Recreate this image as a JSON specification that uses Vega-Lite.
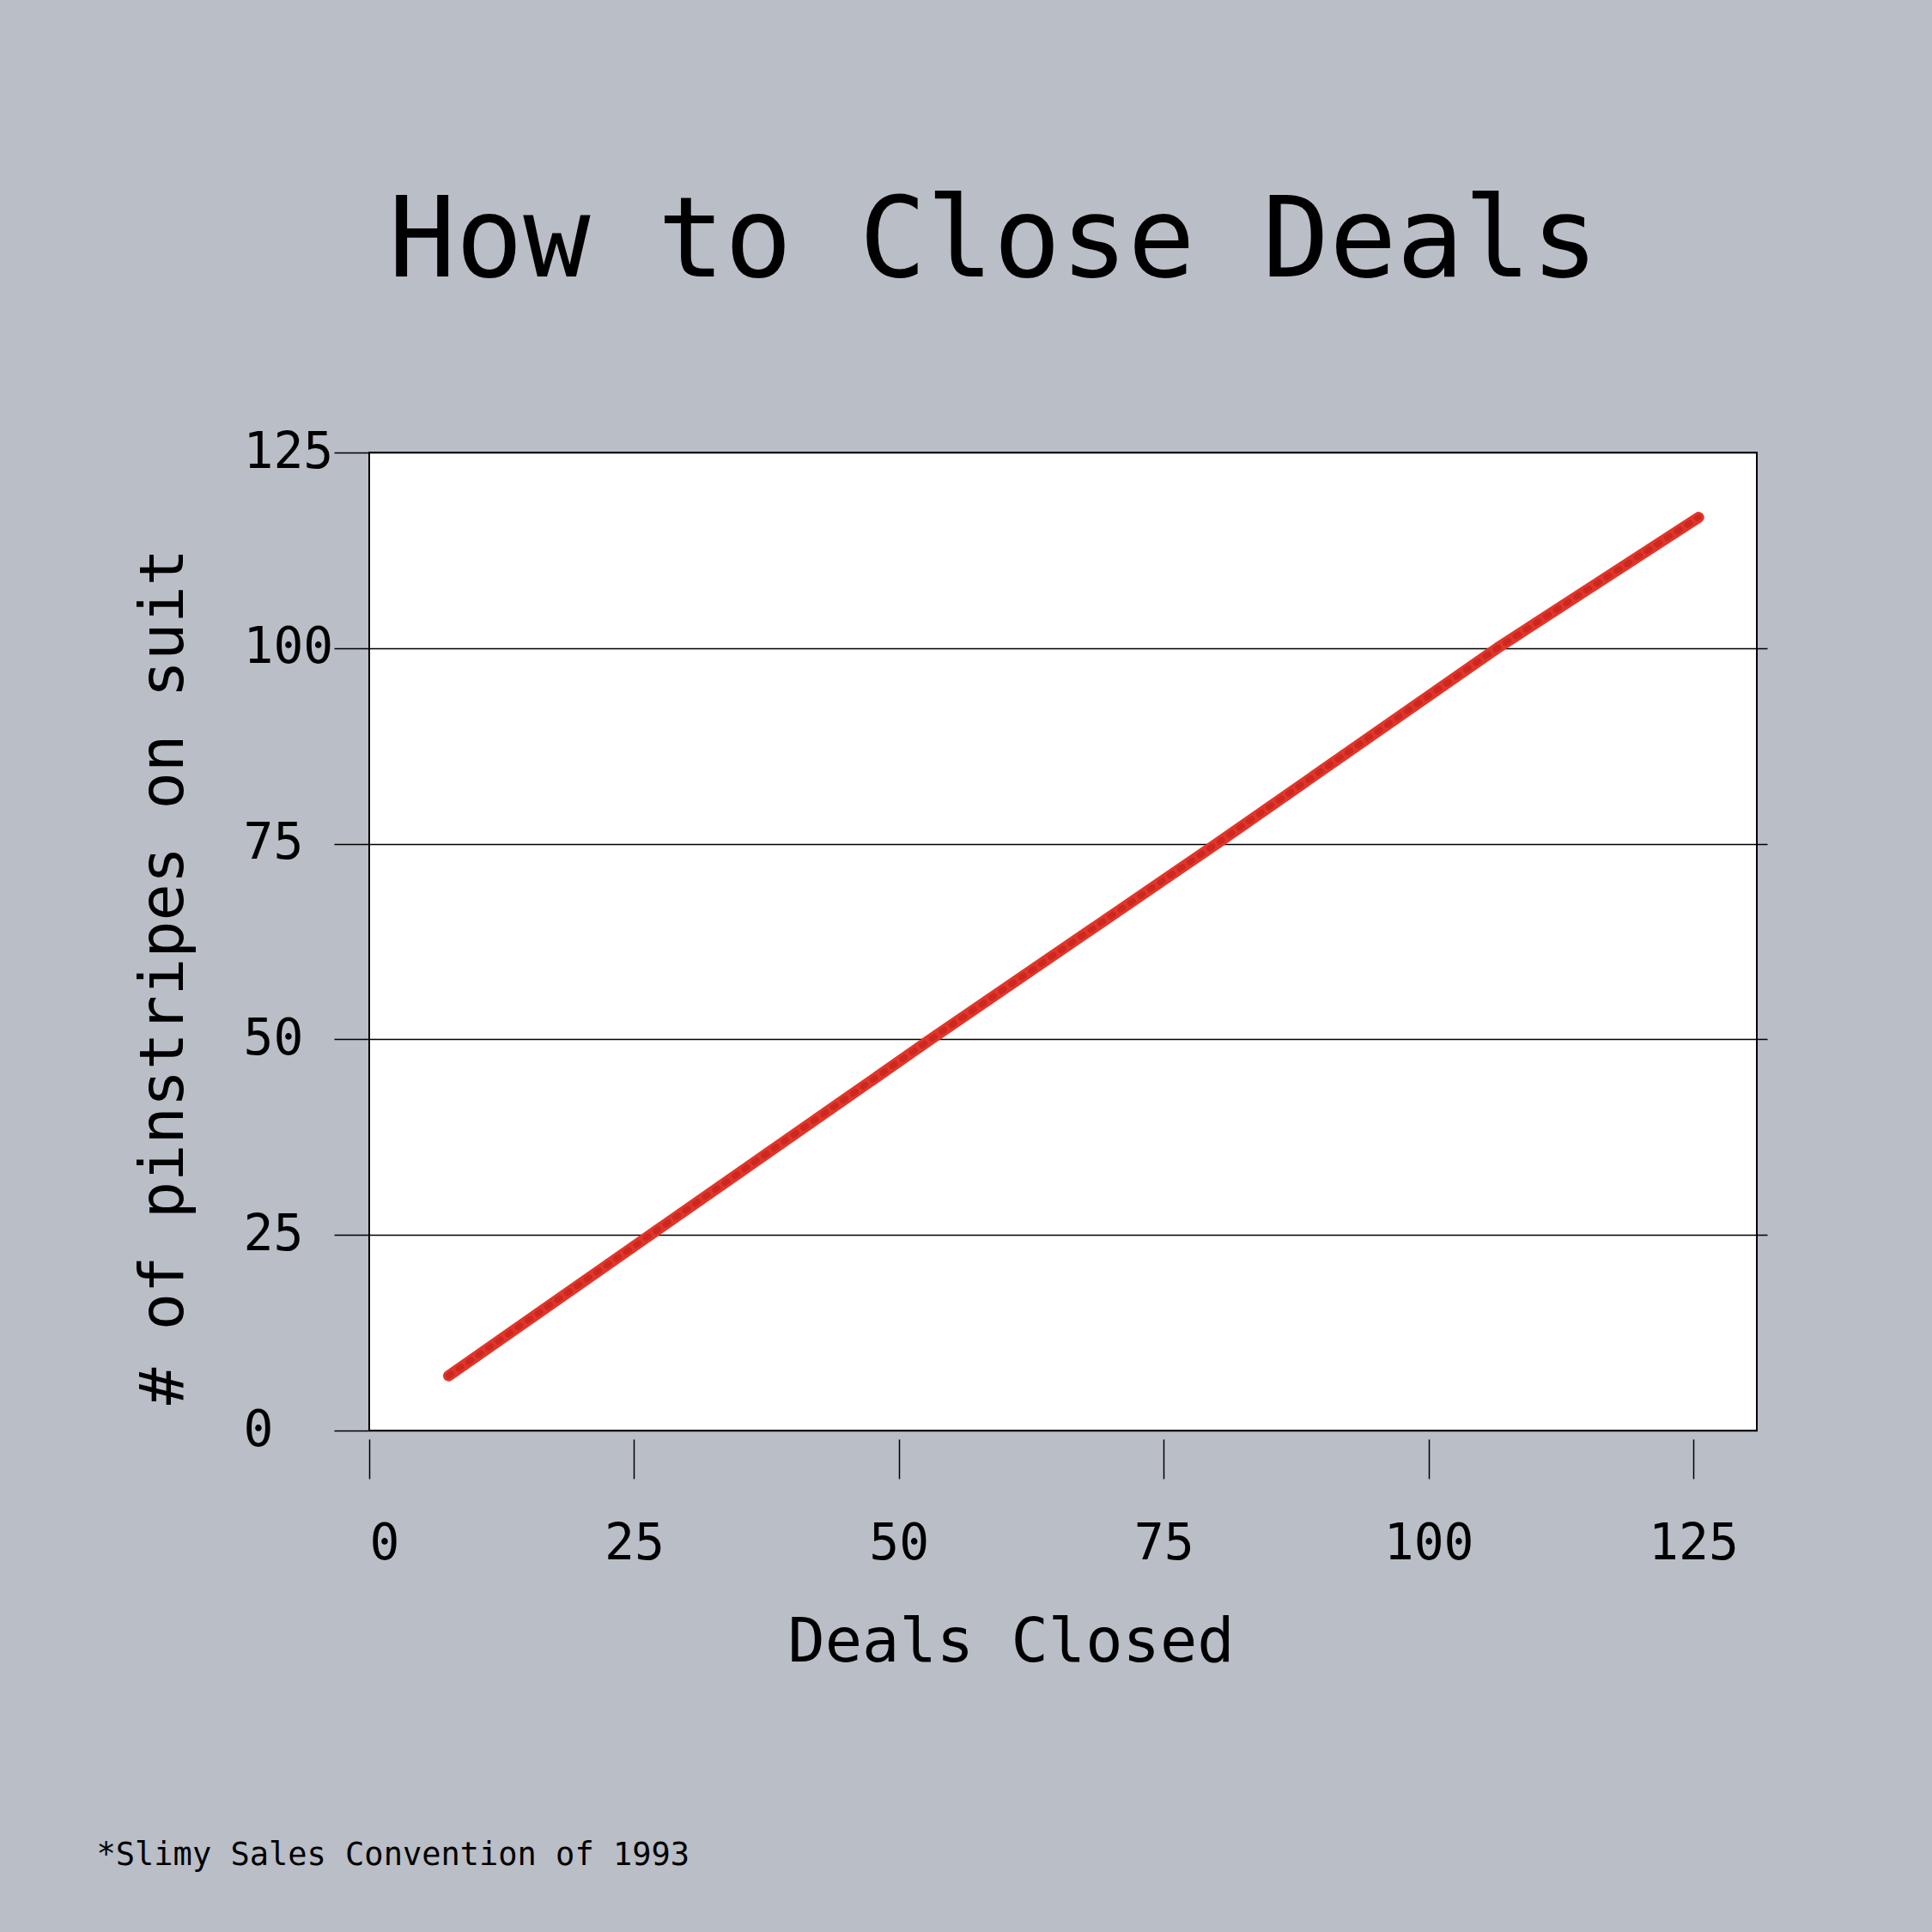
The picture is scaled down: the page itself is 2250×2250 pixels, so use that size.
{
  "$schema": "https://vega.github.io/schema/vega-lite/v6.json",
  "autosize": {"type": "none"},
  "width": 1616,
  "height": 1139,
  "padding": {"left": 430, "top": 527, "right": 204, "bottom": 584},
  "background": "#b9bec7",
  "title": {
    "text": "How to Close Deals",
    "font": "DejaVu Sans Mono",
    "fontSize": 130,
    "fontWeight": "normal",
    "color": "black",
    "anchor": "middle",
    "frame": "group",
    "baseline": "alphabetic",
    "offset": 46,
    "dx": -81
  },
  "data": {
    "values": [
      {"deals": 7.5, "pinstripes": 7},
      {"deals": 26, "pinstripes": 24.5},
      {"deals": 53, "pinstripes": 50},
      {"deals": 80, "pinstripes": 75},
      {"deals": 106.5, "pinstripes": 100},
      {"deals": 125.5, "pinstripes": 116.7}
    ]
  },
  "layer": [
    {
      "mark": {"type": "line", "color": "#e2352a", "strokeWidth": 13, "strokeCap": "round", "strokeJoin": "round"},
      "encoding": {
        "x": {
          "field": "deals",
          "type": "quantitative",
          "scale": {"domain": [0, 131], "nice": false, "zero": false},
          "axis": {
            "values": [0, 25, 50, 75, 100, 125],
            "offset": 10,
            "tickSize": 46,
            "tickColor": "black",
            "tickWidth": 1.5,
            "domain": false,
            "grid": false,
            "labelFont": "DejaVu Sans Mono",
            "labelFontSize": 58,
            "labelColor": "black",
            "labelBaseline": "alphabetic",
            "labelPadding": 93,
            "title": "Deals Closed",
            "titleFont": "DejaVu Sans Mono",
            "titleFontSize": 72,
            "titleFontWeight": "normal",
            "titleColor": "black",
            "titleAlign": "center",
            "titleBaseline": "alphabetic",
            "titleX": 747,
            "titleY": 258
          }
        },
        "y": {
          "field": "pinstripes",
          "type": "quantitative",
          "scale": {"domain": [0, 125], "nice": false, "zero": false},
          "axis": {
            "values": [0, 25, 50, 75, 100, 125],
            "orient": "left",
            "tickSize": 41,
            "tickColor": "black",
            "tickWidth": 1.5,
            "domain": false,
            "grid": true,
            "gridColor": "black",
            "gridWidth": 1.5,
            "gridOpacity": 1,
            "labelFont": "DejaVu Sans Mono",
            "labelFontSize": 58,
            "labelColor": "black",
            "labelAlign": "left",
            "labelBaseline": "middle",
            "labelPadding": 106,
            "title": "# of pinstripes on suit",
            "titleFont": "DejaVu Sans Mono",
            "titleFontSize": 72,
            "titleFontWeight": "normal",
            "titleColor": "black",
            "titleAngle": -90,
            "titleAlign": "center",
            "titleBaseline": "alphabetic",
            "titleX": -218,
            "titleY": 610
          }
        }
      }
    },
    {
      "mark": {"type": "line", "color": "#c4241e", "strokeWidth": 7, "strokeCap": "round", "strokeDash": [4, 10], "opacity": 0.75},
      "encoding": {
        "x": {"field": "deals", "type": "quantitative"},
        "y": {
          "field": "pinstripes",
          "type": "quantitative",
          "scale": {"domain": [0, 125], "nice": false, "zero": false},
          "axis": {
            "orient": "right",
            "values": [25, 50, 75, 100],
            "tickSize": 12,
            "tickColor": "black",
            "tickWidth": 1.5,
            "domain": false,
            "grid": false,
            "labels": false,
            "title": "*Slimy Sales Convention of 1993",
            "titleFont": "DejaVu Sans Mono",
            "titleFontSize": 37,
            "titleFontWeight": "normal",
            "titleColor": "black",
            "titleAngle": 0,
            "titleAlign": "left",
            "titleBaseline": "alphabetic",
            "titleX": -1934,
            "titleY": 1644
          }
        }
      }
    }
  ],
  "resolve": {"scale": {"y": "independent"}, "axis": {"y": "independent"}},
  "config": {
    "view": {"fill": "white", "stroke": "black", "strokeWidth": 2},
    "font": "DejaVu Sans Mono"
  }
}
